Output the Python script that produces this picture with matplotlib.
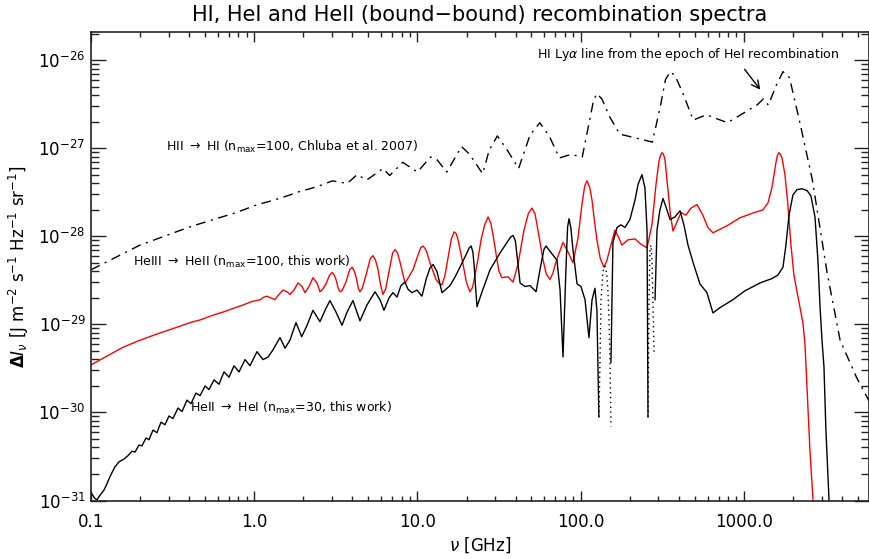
import numpy as np
import matplotlib.pyplot as plt
from matplotlib.ticker import LogLocator, NullFormatter

# all values: rows are (log10 nu[GHz], log10 DeltaI[J m^-2 s^-1 Hz^-1 sr^-1])

# HII -> HI (dash-dot)
hi = np.array([
    [-1.00, -28.38], [-0.70, -28.10], [-0.39, -27.89], [-0.11, -27.73], [0.02, -27.64],
    [0.12, -27.59], [0.22, -27.53], [0.28, -27.49], [0.38, -27.44], [0.48, -27.37],
    [0.57, -27.40], [0.63, -27.30], [0.69, -27.36], [0.79, -27.23], [0.83, -27.31],
    [0.91, -27.16], [1.00, -27.27], [1.08, -27.10], [1.12, -27.13], [1.18, -27.27],
    [1.23, -27.11], [1.27, -26.98], [1.32, -27.07], [1.40, -27.29], [1.44, -27.02],
    [1.49, -26.86], [1.55, -27.02], [1.62, -27.23], [1.69, -26.85], [1.75, -26.71],
    [1.81, -26.87], [1.87, -27.11], [1.94, -27.07], [2.01, -27.10], [2.05, -26.73],
    [2.08, -26.45], [2.10, -26.38], [2.13, -26.44], [2.18, -26.65], [2.24, -26.84],
    [2.33, -26.88], [2.44, -26.93], [2.49, -26.51], [2.52, -26.22], [2.55, -26.13],
    [2.58, -26.18], [2.63, -26.39], [2.69, -26.68], [2.77, -26.62], [2.90, -26.71],
    [3.08, -26.51], [3.12, -26.44], [3.15, -26.51], [3.20, -26.28], [3.24, -26.13],
    [3.28, -26.20], [3.34, -26.68], [3.42, -27.36], [3.51, -28.41], [3.59, -29.18],
    [3.69, -29.60], [3.77, -29.88],
])

# HeIII -> HeII (red)
he3 = np.array([
    [-1.000, -29.46], [-0.902, -29.36], [-0.804, -29.26], [-0.700, -29.18], [-0.596, -29.11],
    [-0.485, -29.04], [-0.393, -28.98], [-0.332, -28.95], [-0.259, -28.90], [-0.191, -28.86],
    [-0.130, -28.82], [-0.069, -28.78], [-0.013, -28.74], [0.036, -28.72], [0.060, -28.69],
    [0.078, -28.68], [0.103, -28.70], [0.127, -28.72], [0.152, -28.66], [0.176, -28.61],
    [0.201, -28.63], [0.219, -28.66], [0.244, -28.61], [0.268, -28.53], [0.293, -28.57],
    [0.311, -28.64], [0.336, -28.57], [0.360, -28.47], [0.385, -28.53], [0.403, -28.63],
    [0.420, -28.60], [0.440, -28.54], [0.462, -28.44], [0.477, -28.41], [0.490, -28.44],
    [0.501, -28.49], [0.515, -28.59], [0.526, -28.63], [0.540, -28.61], [0.562, -28.52],
    [0.585, -28.38], [0.599, -28.35], [0.612, -28.39], [0.624, -28.46], [0.638, -28.59],
    [0.648, -28.63], [0.662, -28.59], [0.685, -28.44], [0.712, -28.25], [0.728, -28.22],
    [0.743, -28.27], [0.759, -28.38], [0.775, -28.56], [0.789, -28.66], [0.805, -28.60],
    [0.826, -28.40], [0.848, -28.19], [0.863, -28.15], [0.878, -28.19], [0.893, -28.29],
    [0.924, -28.53], [0.948, -28.46], [0.973, -28.38], [1.004, -28.21], [1.020, -28.13],
    [1.034, -28.11], [1.048, -28.14], [1.059, -28.19], [1.077, -28.30], [1.114, -28.49],
    [1.135, -28.54], [1.151, -28.55], [1.168, -28.45], [1.188, -28.24], [1.208, -28.03],
    [1.225, -27.95], [1.238, -27.97], [1.249, -28.04], [1.280, -28.32], [1.300, -28.52],
    [1.322, -28.63], [1.338, -28.58], [1.353, -28.44], [1.370, -28.27], [1.390, -28.04],
    [1.412, -27.87], [1.433, -27.78], [1.450, -27.85], [1.463, -27.98], [1.488, -28.27],
    [1.500, -28.40], [1.518, -28.47], [1.555, -28.46], [1.586, -28.52], [1.616, -28.32],
    [1.653, -27.93], [1.680, -27.74], [1.702, -27.68], [1.720, -27.74], [1.733, -27.87],
    [1.770, -28.27], [1.790, -28.43], [1.812, -28.49], [1.830, -28.42], [1.849, -28.29],
    [1.892, -28.07], [1.923, -28.18], [1.953, -28.30], [1.984, -28.02], [2.008, -27.64],
    [2.025, -27.43], [2.039, -27.37], [2.055, -27.44], [2.070, -27.59], [2.085, -27.83],
    [2.100, -28.04], [2.120, -28.25], [2.143, -28.35], [2.160, -28.28], [2.174, -28.18],
    [2.210, -27.93], [2.235, -28.02], [2.253, -28.10], [2.290, -28.04], [2.333, -28.03],
    [2.370, -28.09], [2.407, -28.13], [2.437, -27.87], [2.462, -27.41], [2.480, -27.15],
    [2.490, -27.08], [2.499, -27.05], [2.508, -27.07], [2.517, -27.13], [2.535, -27.47],
    [2.550, -27.75], [2.566, -27.94], [2.590, -27.84], [2.615, -27.73], [2.645, -27.76],
    [2.676, -27.68], [2.713, -27.64], [2.749, -27.76], [2.780, -27.90], [2.811, -27.96],
    [2.897, -27.88], [2.976, -27.79], [3.049, -27.74], [3.117, -27.70], [3.148, -27.62],
    [3.172, -27.45], [3.197, -27.16], [3.206, -27.08], [3.215, -27.05], [3.224, -27.07],
    [3.234, -27.11], [3.252, -27.30], [3.270, -27.64], [3.289, -28.10], [3.307, -28.44],
    [3.332, -28.69], [3.362, -28.98], [3.375, -29.23], [3.393, -29.94], [3.405, -30.43],
    [3.424, -30.99], [3.440, -31.60],
])

# HeII -> HeI (black), positive parts solid, |negative| parts dotted
he2_pos1 = np.array([
    [-1.000, -30.91], [-0.975, -30.98], [-0.963, -30.99], [-0.945, -30.94], [-0.920, -30.88],
    [-0.902, -30.81], [-0.884, -30.73], [-0.854, -30.62], [-0.828, -30.56], [-0.798, -30.53],
    [-0.773, -30.49], [-0.749, -30.44], [-0.730, -30.45], [-0.706, -30.37], [-0.688, -30.38],
    [-0.663, -30.29], [-0.645, -30.31], [-0.620, -30.20], [-0.596, -30.23], [-0.571, -30.11],
    [-0.547, -30.14], [-0.522, -30.04], [-0.498, -30.07], [-0.467, -29.95], [-0.442, -29.99],
    [-0.412, -29.86], [-0.387, -29.90], [-0.357, -29.78], [-0.332, -29.81], [-0.301, -29.70],
    [-0.277, -29.74], [-0.246, -29.63], [-0.216, -29.68], [-0.185, -29.54], [-0.154, -29.60],
    [-0.124, -29.47], [-0.093, -29.54], [-0.056, -29.40], [-0.026, -29.47], [0.017, -29.31],
    [0.054, -29.40], [0.085, -29.37], [0.115, -29.29], [0.158, -29.15], [0.189, -29.27],
    [0.219, -29.18], [0.256, -28.98], [0.291, -29.14], [0.324, -29.01], [0.360, -28.84],
    [0.403, -28.97], [0.434, -28.84], [0.464, -28.73], [0.501, -28.86], [0.538, -29.01],
    [0.569, -28.86], [0.605, -28.73], [0.648, -28.96], [0.691, -28.78], [0.740, -28.63],
    [0.771, -28.72], [0.795, -28.84], [0.826, -28.70], [0.850, -28.64], [0.875, -28.69],
    [0.899, -28.56], [0.924, -28.52], [0.942, -28.60], [0.967, -28.64], [0.997, -28.61],
    [1.028, -28.68], [1.053, -28.49], [1.077, -28.36], [1.096, -28.32], [1.120, -28.40],
    [1.151, -28.64], [1.200, -28.56], [1.231, -28.46], [1.261, -28.35], [1.298, -28.21],
    [1.318, -28.13], [1.329, -28.11], [1.340, -28.18], [1.347, -28.32], [1.365, -28.80],
    [1.396, -28.63], [1.445, -28.38], [1.506, -28.19], [1.549, -28.07], [1.570, -28.01],
    [1.586, -27.99], [1.600, -28.05], [1.610, -28.21], [1.629, -28.53], [1.659, -28.57],
    [1.690, -28.56], [1.727, -28.63], [1.757, -28.32], [1.775, -28.15], [1.788, -28.11],
    [1.825, -28.20], [1.855, -28.27], [1.874, -28.61], [1.892, -29.37], [1.910, -28.38],
    [1.920, -27.90], [1.929, -27.80], [1.940, -27.90], [1.953, -28.15], [1.978, -28.54],
    [2.002, -28.57], [2.027, -28.72], [2.051, -29.15], [2.070, -28.72], [2.088, -28.59],
    [2.100, -28.84], [2.112, -30.05],
])
he2_neg1 = np.array([
    [2.112, -30.05], [2.119, -29.40], [2.125, -28.72], [2.137, -28.40], [2.149, -28.34],
    [2.161, -28.44], [2.167, -28.61], [2.174, -28.95], [2.180, -29.40], [2.186, -30.16],
])
he2_pos2 = np.array([
    [2.186, -29.43], [2.198, -28.07], [2.223, -27.90], [2.247, -27.87], [2.272, -27.90],
    [2.302, -27.81], [2.333, -27.59], [2.352, -27.41], [2.376, -27.30], [2.394, -27.45],
    [2.407, -27.93], [2.413, -30.05],
])
he2_neg2 = np.array([
    [2.413, -30.05], [2.419, -28.72], [2.425, -28.15], [2.431, -28.10], [2.437, -28.27],
    [2.443, -28.72], [2.450, -29.32],
])
he2_pos3 = np.array([
    [2.456, -28.72], [2.468, -27.93], [2.486, -27.70], [2.505, -27.57], [2.529, -27.70],
    [2.548, -27.81], [2.578, -27.78], [2.609, -27.71], [2.633, -27.87], [2.658, -28.10],
    [2.688, -28.29], [2.731, -28.54], [2.774, -28.64], [2.811, -28.87], [2.854, -28.81],
    [2.933, -28.72], [3.006, -28.62], [3.099, -28.53], [3.172, -28.48], [3.209, -28.44],
    [3.240, -28.35], [3.258, -28.10], [3.277, -27.76], [3.301, -27.53], [3.326, -27.47],
    [3.356, -27.46], [3.387, -27.48], [3.411, -27.54], [3.436, -27.78], [3.454, -28.27],
    [3.467, -28.80], [3.479, -29.18], [3.491, -29.48], [3.503, -30.20], [3.522, -30.99],
    [3.534, -31.45],
])

xtick_vals = [0.1, 1.0, 10.0, 100.0, 1000.0]
xtick_labels = ['0.1', '1.0', '10.0', '100.0', '1000.0']
ytick_vals = [1e-31, 1e-30, 1e-29, 1e-28, 1e-27, 1e-26]
ytick_labels = [r'$10^{-31}$', r'$10^{-30}$', r'$10^{-29}$', r'$10^{-28}$', r'$10^{-27}$', r'$10^{-26}$']

fig = plt.figure(figsize=(8.7, 5.59), dpi=100)
ax = fig.add_axes([91 / 870, 58.5 / 559, 778 / 870, 468.5 / 559])

ax.plot(10**hi[:, 0], 10**hi[:, 1], color='k', lw=1.0, ls=(0, (7, 4, 1.5, 4)))
ax.plot(10**he3[:, 0], 10**he3[:, 1], color='#ff0000', lw=1.0)
for seg in [he2_pos1, he2_pos2, he2_pos3]:
    ax.plot(10**seg[:, 0], 10**seg[:, 1], color='k', lw=1.0)
for seg in [he2_neg1, he2_neg2]:
    ax.plot(10**seg[:, 0], 10**seg[:, 1], color='k', lw=1.0, ls=(0, (1, 2.5)))

ax.set_xscale('log')
ax.set_yscale('log')
ax.set_xlim(0.1, 10**3.767)
ax.set_ylim(1e-31, 10**-25.68)

ax.set_xticks(xtick_vals)
ax.set_xticklabels(xtick_labels)
ax.set_yticks(ytick_vals)
ax.set_yticklabels(ytick_labels)
ax.xaxis.set_minor_locator(LogLocator(base=10, subs=np.arange(2, 10), numticks=100))
ax.yaxis.set_minor_locator(LogLocator(base=10, subs=np.arange(2, 10), numticks=100))
ax.xaxis.set_minor_formatter(NullFormatter())
ax.yaxis.set_minor_formatter(NullFormatter())

ax.tick_params(which='both', direction='in', top=True, right=True, color='#222222')
ax.tick_params(axis='x', which='major', length=7, width=1, pad=9, labelsize=12)
ax.tick_params(axis='x', which='minor', length=3.5, width=1)
ax.tick_params(axis='y', which='major', length=11, width=1, pad=4, labelsize=12)
ax.tick_params(axis='y', which='minor', length=6, width=1)
for sp in ax.spines.values():
    sp.set_linewidth(1.2)
    sp.set_color('#222222')

ax.set_title('HI, HeI and HeII (bound\u2212bound) recombination spectra', fontsize=15, pad=8)
ax.set_xlabel(r'$\nu$ [GHz]', fontsize=12, labelpad=3)
ax.set_ylabel(r'$\mathbf{\Delta}\mathit{I}_{\nu}$ [J m$^{-2}$ s$^{-1}$ Hz$^{-1}$ sr$^{-1}$]', fontsize=12, labelpad=5)

ax.text(0.096, 0.754, r'HII $\rightarrow$ HI (n$_{\rm max}$=100, Chluba et al. 2007)',
        transform=ax.transAxes, fontsize=9, ha='left', va='center')
ax.text(0.054, 0.509, r'HeIII $\rightarrow$ HeII (n$_{\rm max}$=100, this work)',
        transform=ax.transAxes, fontsize=9, ha='left', va='center')
ax.text(0.127, 0.197, r'HeII $\rightarrow$ HeI (n$_{\rm max}$=30, this work)',
        transform=ax.transAxes, fontsize=9, ha='left', va='center')
ax.text(0.573, 0.951, r'HI Ly$\alpha$ line from the epoch of HeI recombination',
        transform=ax.transAxes, fontsize=9, ha='left', va='center')
ax.annotate('', xy=(0.8625, 0.872), xytext=(0.838, 0.925), xycoords='axes fraction',
            arrowprops=dict(arrowstyle='->', lw=1.0, color='k', mutation_scale=14))

fig.savefig('out.png', dpi=100)
